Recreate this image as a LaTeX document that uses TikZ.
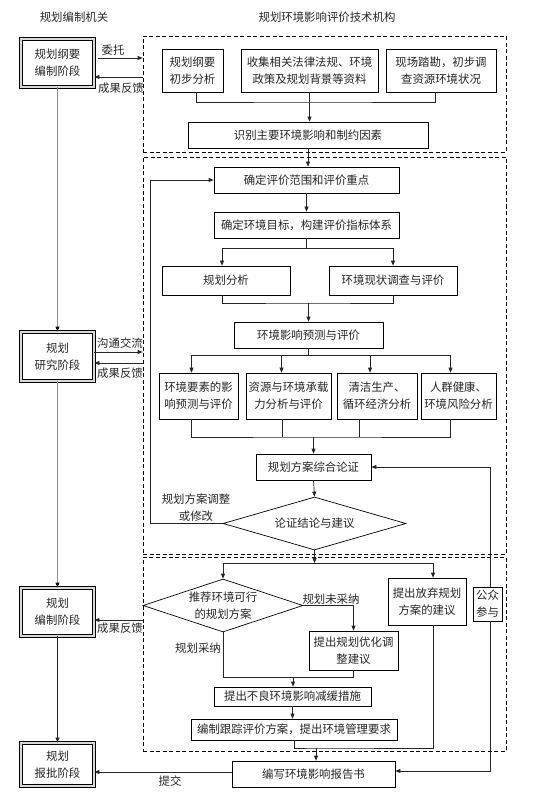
\documentclass[tikz,border=0pt]{standalone}
\usepackage{fontspec}
\newfontfamily\cjk{Noto Sans CJK SC}
\usetikzlibrary{shapes.geometric,arrows.meta,calc}
\begin{document}
\begin{tikzpicture}[x=1pt,y=-1pt,
  every node/.style={font=\cjk\fontsize{11.4}{17}\selectfont, text=black!85, align=center, inner sep=1pt},
  box/.style 2 args={draw, line width=0.7pt, fill=white, minimum width=#1, minimum height=#2},
  dbox/.style 2 args={draw, double=black!15, double distance=1.6pt, line width=0.9pt, fill=white, minimum width=#1, minimum height=#2},
  dashbox/.style 2 args={draw, dash pattern=on 4pt off 2.5pt, line width=0.7pt, minimum width=#1, minimum height=#2},
  dia/.style 2 args={draw, diamond, aspect=3, inner sep=0pt, line width=0.7pt, fill=white, minimum width=#1, minimum height=#2},
  con/.style={line width=0.7pt, draw=black!85},
  arr/.style={con, -{Triangle[length=5pt,width=4pt]}},
  grayarr/.style={line width=0.9pt, draw=black!45, -{Triangle[length=5pt,width=4pt,color=black,fill=black]}}
]
\useasboundingbox (0,0) rectangle (550,799);

% titles
\node (t1) at (74,17) {规划编制机关};
\node (t2) at (327,17) {规划环境影响评价技术机构};

% dashed frames
\node[dashbox={363}{116}] (D1) at (324.5,94) {};
\node[dashbox={363}{397}] (D2) at (324.5,355.5) {};
\node[dashbox={363}{194}] (D3) at (324.5,654) {};

% left column
\node[dbox={73}{48}] (p1) at (57.5,63) {规划纲要\\编制阶段};
\node[dbox={73}{49}] (p2) at (57.5,356.5) {规划\\研究阶段};
\node[dbox={73}{48}] (p3) at (57.5,612) {规划\\编制阶段};
\node[dbox={73}{43}] (p4) at (57.5,764.5) {规划\\报批阶段};

% frame 1
\node[box={61}{43}] (a1) at (192.5,70.5) {规划纲要\\初步分析};
\node[box={137}{43}] (a2) at (309.5,70.5) {收集相关法律法规、环境\\政策及规划背景等资料};
\node[box={110}{43}] (a3) at (441,70.5) {现场踏勘，初步调\\查资源环境状况};
\node[box={240}{26}] (b) at (308,135) {识别主要环境影响和制约因素};

% frame 2
\node[box={185}{26}] (c) at (306.5,180) {确定评价范围和评价重点};
\node[box={185}{26}] (d) at (306.5,225) {确定环境目标，构建评价指标体系};
\node[box={128}{29}] (e1) at (226,280.5) {规划分析};
\node[box={128}{29}] (e2) at (393,280.5) {环境现状调查与评价};
\node[box={149}{26}] (f) at (308.5,335) {环境影响预测与评价};
\node[box={79}{46}] (g1) at (198.5,396) {环境要素的影\\响预测与评价};
\node[box={85}{46}] (g2) at (288.5,396) {资源与环境承载\\力分析与评价};
\node[box={80}{46}] (g3) at (377,396) {清洁生产、\\循环经济分析};
\node[box={75}{46}] (g4) at (458.5,396) {人群健康、\\环境风险分析};
\node[box={115}{26}] (h) at (313.5,467) {规划方案综合论证};
\node[dia={183}{53}] (k) at (314.5,523.5) {论证结论与建议};

% frame 3
\node[dia={160}{53}] (k2) at (223,605.5) {推荐环境可行\\的规划方案};
\node[box={89}{39}] (m) at (353.5,650.5) {提出规划优化调\\整建议};
\node[box={78}{47}] (n) at (427,601.5) {提出放弃规划\\方案的建议};
\node[box={29}{34}] (q) at (487.5,604) {公众\\参与};
\node[box={157}{19}] (r) at (292.5,696.5) {提出不良环境影响减缓措施};
\node[box={206}{21}] (s) at (294,729.5) {编制跟踪评价方案，提出环境管理要求};
\node[box={163}{26}] (u) at (313.5,774) {编写环境影响报告书};

% labels
\node (lw) at (113,50) {委托};
\node (lf1) at (121,88) {成果反馈};
\node (lc) at (120,343) {沟通交流};
\node (lf2) at (120,373) {成果反馈};
\node (lf3) at (120,628) {成果反馈};
\node (lt) at (170,781) {提交};
\node (ladj) at (196,508) {规划方案调整\\或修改};
\node (lno) at (331,599) {规划未采纳};
\node (lyes) at (198,648) {规划采纳};

% junction coordinates
\coordinate (j1) at (309.5,102);
\coordinate (j2) at (306.5,248);
\coordinate (j3) at (308.5,303);
\coordinate (j4) at (308.5,355);
\coordinate (j5) at (314.5,563);
\coordinate (j6) at (293,677);
\coordinate (j7) at (316,748);
\coordinate (jb) at (313.5,437);

% left column connectors
\draw[grayarr] (p1.south) -- (p2.north);
\draw[grayarr] (p2.south) -- (p3.north);
\draw[arr] (p3.south) -- (p4.north);
\draw[arr] ([xshift=4pt,yshift=5pt]p1.east) -- ([yshift=5pt]p1.east -| D1.west);
\draw[arr] ([yshift=-14pt]p1.east -| D1.west) -- ([yshift=-14pt]p1.east);
\draw[arr] ([yshift=4.5pt]p2.east) -- ([yshift=4.5pt]p2.east -| D2.west);
\draw[arr] ([yshift=-6.5pt]p2.east -| D2.west) -- ([yshift=-6.5pt]p2.east);
\draw[arr] ([yshift=-8pt]p3.east -| D3.west) -- ([yshift=-8pt]p3.east);
\draw[arr] ([yshift=2pt]u.west) -- ([yshift=2pt]u.west -| p4.east);

% frame 1 connectors
\draw[con] ([xshift=4pt]a1.south) |- (j1) -| ([xshift=-6pt]a3.south);
\draw[arr] (a2.south) -- (a2.south |- b.north);
\draw[arr] (b.south) -- (b.south |- c.north);

% frame 2 connectors
\draw[arr] (c.south) -- (d.north);
\draw[con] (d.south) -- (j2);
\draw[arr] (j2) -| ([xshift=-4pt]e1.north);
\draw[arr] (j2) -| (e2.north);
\draw[con] ([xshift=-4pt]e1.south) |- (j3) -| (e2.south);
\draw[arr] (j3) -- (j3 |- f.north);
\draw[con] (f.south) -- (j4);
\draw[con] ([xshift=-7pt]g1.north |- j4) -- ([xshift=-8pt]g4.north |- j4);
\draw[arr] ([xshift=-7pt]g1.north |- j4) -- ([xshift=-7pt]g1.north);
\draw[arr] ([xshift=-7pt]g2.north |- j4) -- ([xshift=-7pt]g2.north);
\draw[arr] ([xshift=-7pt]g3.north |- j4) -- ([xshift=-7pt]g3.north);
\draw[arr] ([xshift=-8pt]g4.north |- j4) -- ([xshift=-8pt]g4.north);
\draw[con] ([xshift=-7pt]g1.south) |- (jb) -| ([xshift=-8pt]g4.south);
\draw[con] ([xshift=-6pt]g2.south) -- ([xshift=-6pt]g2.south |- jb);
\draw[con] ([xshift=-18pt]g3.south) -- ([xshift=-18pt]g3.south |- jb);
\draw[arr] (jb) -- (h.north);
\draw[arr] (h.south) -- (k.north);
\draw[arr] (k.west) -- ++(-72,0) |- (c.west);

% frame 3 connectors
\draw[arr] (k.south) -- (j5);
\draw[arr] (j5) -| (k2.north);
\draw[arr] (j5) -| ([xshift=6pt]n.north);
\draw[arr] (k2.east) -| (m.north);
\draw[con] (k2.south) |- (m.south |- j6) -- (m.south);
\draw[arr] (j6) -- (j6 |- r.north);
\draw[arr] (r.south) -- (r.south |- s.north);
\draw[con] (s.south) |- (j7) -| ([xshift=6pt]n.south);
\draw[arr] (j7) -- (j7 |- u.north);
\draw[arr] ([xshift=2.5pt]q.north) |- (h.east);
\draw[arr] ([xshift=2.5pt]q.south) |- ([yshift=3pt]u.east);
\end{tikzpicture}
\end{document}
